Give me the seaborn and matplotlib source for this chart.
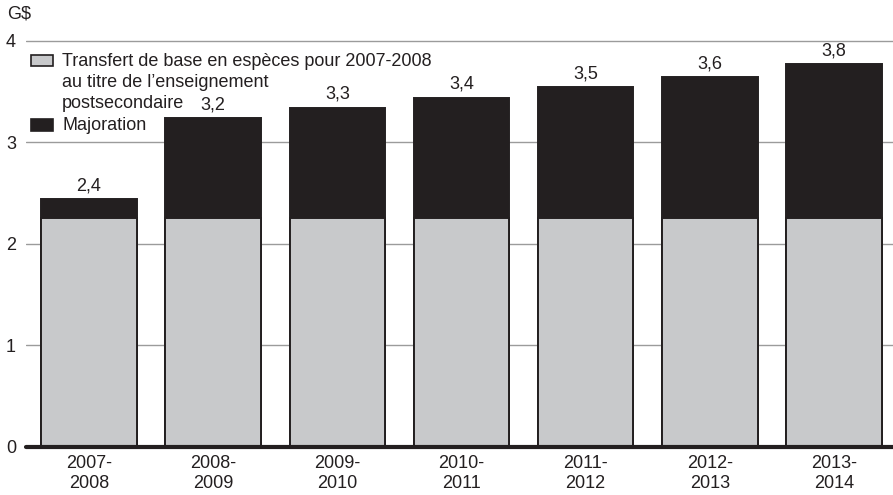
import matplotlib
matplotlib.use("Agg")
import matplotlib.pyplot as plt
from matplotlib.patches import Rectangle
import numpy as np
import pandas as pd
import seaborn as sns

# Fiscal years, base cash transfer and total after the increase (G$)
years = ["2007-\n2008", "2008-\n2009", "2009-\n2010", "2010-\n2011",
         "2011-\n2012", "2012-\n2013", "2013-\n2014"]
base_transfer = [2.25, 2.25, 2.25, 2.25, 2.25, 2.25, 2.25]
total_transfer = [2.44, 3.24, 3.34, 3.44, 3.54, 3.64, 3.77]
y_ticks = [0, 1, 2, 3, 4]

legend_base = ["Transfert de base en espèces pour 2007-2008",
               "au titre de l\u2019enseignement",
               "postsecondaire"]
legend_increase = "Majoration"

df = pd.DataFrame({"annee": years, "base": base_transfer, "total": total_transfer})

GREY = "#c8c9cb"
DARK = "#231f20"
GRID = "#9b9b9b"
FS = 13

sns.set_style("white")
plt.rcParams["font.family"] = ["Liberation Sans", "DejaVu Sans"]
plt.rcParams["font.size"] = FS

fig = plt.figure(figsize=(8.93, 4.95), dpi=100)
ax = fig.add_axes([0.0287, 0.0976, 0.9713, 0.8242])

# Total height in black, base transfer drawn over it in grey
sns.barplot(data=df, x="annee", y="total", color=DARK, saturation=1,
            width=0.77, edgecolor=DARK, linewidth=1.4, errorbar=None,
            ax=ax, zorder=3)
sns.barplot(data=df, x="annee", y="base", color=GREY, saturation=1,
            width=0.77, edgecolor=DARK, linewidth=1.4, errorbar=None,
            ax=ax, zorder=4)

# Value labels above each bar, French decimal comma
totals_container = ax.containers[0]
labels = [f"{v:.1f}".replace(".", ",") for v in total_transfer]
ax.bar_label(totals_container, labels=labels, padding=3.5, fontsize=FS,
             color=DARK)

ax.set_xlim(-0.51, 6.475)
ax.set_ylim(0, 4.02)
ax.set_yticks(y_ticks)
ax.set_yticklabels([str(t) for t in y_ticks])
ax.set_xlabel("")
ax.set_ylabel("")

for y in y_ticks[1:]:
    ax.axhline(y, color=GRID, linewidth=1.0, zorder=1)
ax.axhline(0, color=DARK, linewidth=3.0, zorder=5, clip_on=False)

for s in ax.spines.values():
    s.set_visible(False)
ax.tick_params(axis="y", length=0, pad=7, labelsize=FS, colors=DARK)
ax.tick_params(axis="x", length=0, pad=6, labelsize=FS, colors=DARK)

# Unit label
fig.text(7 / 893, 1 - 19 / 495, "G$", fontsize=FS, color=DARK,
         ha="left", va="baseline")

# Legend drawn in figure pixel space
def fx(px):
    return px / 893

def fy(py):
    return 1 - py / 495

fig.patches.append(Rectangle((fx(31), fy(66)), fx(22), 11 / 495,
                             transform=fig.transFigure, facecolor=GREY,
                             edgecolor=DARK, linewidth=1.2))
fig.patches.append(Rectangle((fx(31), fy(131)), fx(22), 12 / 495,
                             transform=fig.transFigure, facecolor=DARK,
                             edgecolor=DARK, linewidth=1.2))
for i, line in enumerate(legend_base):
    fig.text(fx(62), fy(66 + i * 21), line, fontsize=FS, color=DARK,
             ha="left", va="baseline")
fig.text(fx(62), fy(130), legend_increase, fontsize=FS, color=DARK,
         ha="left", va="baseline")

fig.savefig("out.png", dpi=100)
